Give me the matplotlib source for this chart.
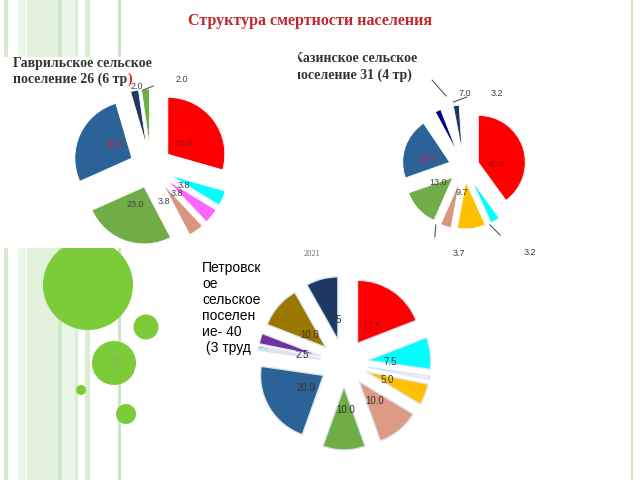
import matplotlib

matplotlib.use("Agg")
import matplotlib.pyplot as plt
from matplotlib.patches import Rectangle, Circle
from matplotlib.transforms import Bbox, TransformedBbox

W, H = 640, 480

# ---- data ---------------------------------------------------------------
# Гаврильское: clockwise from 12 o'clock
gav_vals = [26.0, 3.8, 3.8, 3.8, 23.0, 24.0, 2.0, 2.0]
gav_text = ["26.0", "3.8", "3.8", "3.8", "23.0", "30.8", "2.0", "2.0"]
gav_cols = ["#ff0000", "#00ffff", "#ff66ff", "#d9967e", "#70ad47", "#2b6298", "#1f3864", "#70ad47"]

# Казинское (white slices are the empty gaps at the top)
kaz_vals = [40.0, 3.2, 9.7, 3.7, 13.0, 21.0, 1.5, 2.0, 2.9, 2.0, 1.0]
kaz_text = ["40.0", "3.2", "9.7", "3.7", "13.0", "22.6", "", "", "3.2", "7.0", ""]
kaz_cols = ["#ff0000", "#00ffff", "#ffc000", "#d9967e", "#70ad47", "#2b6298",
            "white", "#000080", "white", "#1f3864", "white"]

# Петровское 2021
pet_vals = [17.5, 7.5, 0.8, 5.0, 10.0, 10.0, 20.0, 0.4, 0.4, 2.5, 10.0, 7.5]
pet_text = ["17.5", "7.5", "", "5.0", "10.0", "10.0", "20.0", "", "", "2.5", "10.0", "7.5"]
pet_cols = ["#ff0000", "#00ffff", "#eef2f8", "#ffc000", "#df9a83", "#70ad47", "#2b6298",
            "#9dc3e6", "#1f3864", "#7030a0", "#9c7700", "#1f3864"]

# ---- label placement (pie units, style only) ----------------------------
gav_pos = [(0.58, 0.42), (0.58, -0.33), (0.46, -0.46), (0.23, -0.60), (-0.28, -0.65),
           (-0.65, 0.40), (-0.25, 1.42), (0.54, 1.53)]
gav_tcol = ["#a01010", "#404040", "#404040", "#404040", "#404040", "#d01840", "#404040", "#404040"]
kaz_pos = [(0.70, 0.05), (1.40, -1.81), (-0.05, -0.55), (-0.10, -1.83), (-0.55, -0.32),
           (-0.78, 0.18), None, None, (0.70, 1.57), (0.02, 1.57), None]
kaz_tcol = ["#a01010", "#404040", "#404040", "#404040", "#404040", "#d01840",
            None, None, "#404040", "#404040", None]
kaz_lines = [((-0.68, 1.85), (-0.38, 1.51)), ((-0.23, 1.38), (0.06, 1.49)),
             ((0.55, -1.23), (0.77, -1.45)), ((-0.60, -1.23), (-0.62, -1.49))]
pet_pos = [(0.44, 0.57), (0.73, 0.02), None, (0.68, -0.27), (0.48, -0.60), (0.02, -0.75),
           (-0.60, -0.40), None, None, (-0.67, 0.13), (-0.54, 0.44), (-0.14, 0.68)]

fig = plt.figure(figsize=(6.4, 4.8), dpi=100)
fig.patch.set_facecolor("white")

# ---- background slide decoration ----------------------------------------
bg = fig.add_axes([0, 0, 1, 1])
bg.set_xlim(0, W)
bg.set_ylim(H, 0)
bg.axis("off")

stripes = [(4, 4, "#d3ebcc"), (18, 8, "#eaf6e6"), (27, 33, "#e2f2dd"), (58, 4, "#cfe8c7"),
           (62, 13, "#eaf6e6"), (75, 3, "#d8eed2"), (85, 5, "#d8eed2"), (118, 3, "#cde6c5")]
for x0, w, c in stripes:
    bg.add_patch(Rectangle((x0, 0), w, H, color=c, lw=0, zorder=1))
bg.add_patch(Rectangle((631, 0), 2, H, color="#cde6c5", lw=0, zorder=1))

green = "#7ccc3a"
for (cx, cy, r) in [(88, 285, 45), (146, 327, 12.5), (114, 363, 22), (81, 390, 5), (126, 414, 10)]:
    bg.add_patch(Circle((cx, cy), r, color=green, lw=0, zorder=2))
bg.text(114, 363, "5", ha="center", va="center", fontsize=8, color="#8c9c80",
        family="Liberation Serif", zorder=3)

# white panel of the first chart
bg.add_patch(Rectangle((0, 57), 245, 191, color="white", lw=0, zorder=4))


def ftext(x, y, s, **kw):
    return fig.text(x / W, 1 - y / H, s, **kw)


def draw_pie(cx, cy, r, vals, cols, expl, ec, lw, L=2.0):
    ax = fig.add_axes([(cx - L * r) / W, (H - cy - L * r) / H, 2 * L * r / W, 2 * L * r / H])
    ax.pie(vals, colors=cols, startangle=90, counterclock=False,
           explode=[expl] * len(vals),
           wedgeprops=dict(edgecolor=ec, linewidth=lw))
    ax.set_xlim(-L, L)
    ax.set_ylim(-L, L)
    ax.axis("off")
    return ax


# ---- pie 1 --------------------------------------------------------------
ax1 = draw_pie(151, 167, 57, gav_vals, gav_cols, 0.37, "white", 0.6)
for s, p, c in zip(gav_text, gav_pos, gav_tcol):
    ax1.text(p[0], p[1], s, ha="center", va="center", fontsize=6.5, color=c,
             family="Liberation Sans")
ax1.plot([-0.14, 0.04], [1.35, 1.42], color="#404040", lw=0.7)

# ---- pie 2 --------------------------------------------------------------
ax2 = draw_pie(464, 167, 47, kaz_vals, kaz_cols, 0.32, "white", 0.6)
for s, p, c in zip(kaz_text, kaz_pos, kaz_tcol):
    if p is None:
        continue
    ax2.text(p[0], p[1], s, ha="center", va="center", fontsize=6.5, color=c,
             family="Liberation Sans")
for (a, b) in kaz_lines:
    ax2.plot([a[0], b[0]], [a[1], b[1]], color="#404040", lw=0.7)

# ---- pie 3 --------------------------------------------------------------
ax3 = draw_pie(344, 363, 63, pet_vals, pet_cols, 0.38, "#dde6f0", 1.0)
for s, p in zip(pet_text, pet_pos):
    if p is None:
        continue
    ax3.text(p[0], p[1], s, ha="center", va="center", fontsize=7,
             color="#a01010" if s == "17.5" and p[0] > 0 else "#333333",
             family="Liberation Sans")

# ---- texts --------------------------------------------------------------
ftext(310, 25, "Структура смертности населения", ha="center", va="baseline",
      fontsize=11.5, fontweight="bold", color="#c0282d", family="Liberation Serif")

ftext(13, 67, "Гаврильское сельское", va="baseline", fontsize=10, fontweight="bold",
      color="#333333", family="Liberation Serif", zorder=5)
t2 = ftext(13, 83, "поселение 26 (6 тр", va="baseline", fontsize=10, fontweight="bold",
           color="#333333", family="Liberation Serif", zorder=5)
fig.canvas.draw()
bb = t2.get_window_extent(fig.canvas.get_renderer())
fig.text(bb.x1 / W, 1 - 83 / H, ")", va="baseline", fontsize=10, fontweight="bold",
         color="#e02020", family="Liberation Serif", zorder=5)

clip = TransformedBbox(Bbox([[298 / W, 0], [1, 1]]), fig.transFigure)
for y, s in [(62, "Казинское сельское"), (79, "поселение 31 (4 тр)")]:
    t = ftext(293, y, s, va="baseline", fontsize=10, fontweight="bold",
              color="#333333", family="Liberation Serif")
    t.set_clip_box(clip)
    t.set_clip_on(True)

ftext(312, 256, "2021", ha="center", va="baseline", fontsize=6, color="#666666",
      family="Liberation Serif")
for i, s in enumerate(["Петровск", "ое", "сельское", "поселен", "ие- 40", " (3 труд"]):
    ftext(202, 272 + 16 * i, s, va="baseline", fontsize=10, color="black",
          family="Liberation Sans", zorder=5)

fig.savefig("out.png", dpi=100)
